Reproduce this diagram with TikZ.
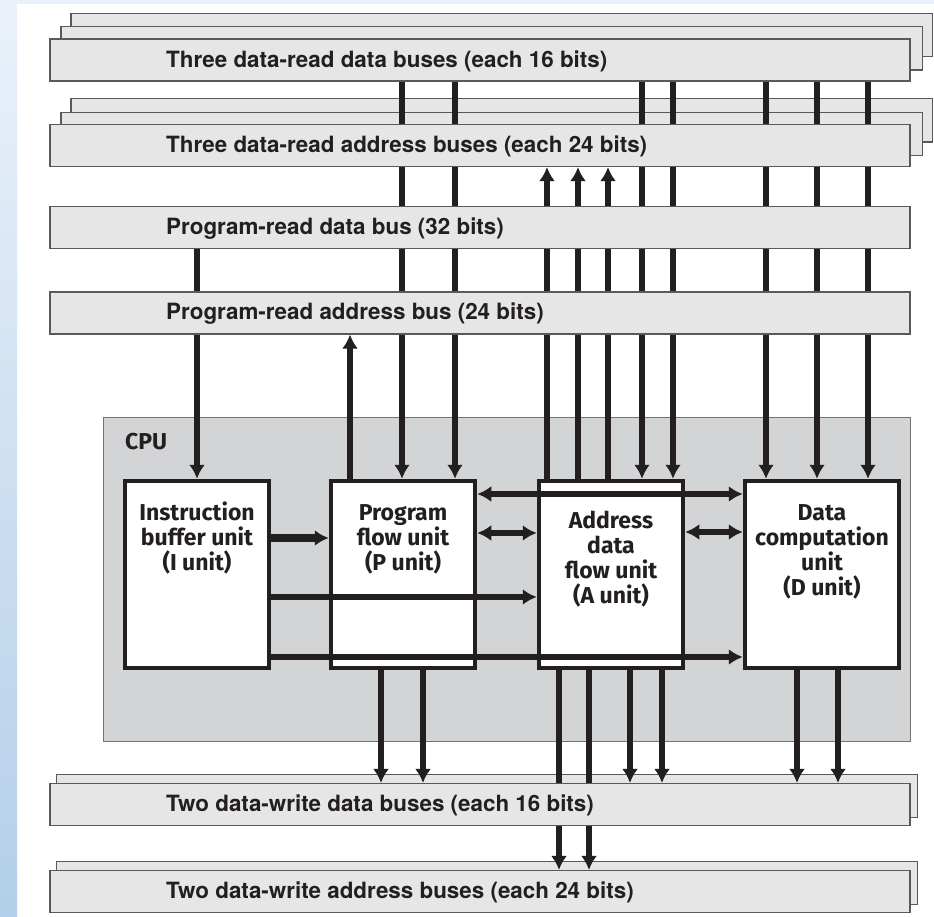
\documentclass[tikz,border=0pt]{standalone}
\usepackage{fontspec}
\setmainfont{TeX Gyre Heros}
\newfontfamily\unitfont{Fira Sans}
\usetikzlibrary{arrows.meta}
\pgfdeclarelayer{bg}
\pgfdeclarelayer{wires}
\pgfsetlayers{bg,wires,main}
\definecolor{bluestrip}{HTML}{B3CFE9}
\definecolor{bluelight}{HTML}{EAF1FA}
\definecolor{busgray}{HTML}{E6E6E6}
\definecolor{cpugray}{HTML}{D3D4D6}
\definecolor{ink}{HTML}{231F20}
\tikzset{
  bus/.style={draw=black!65, fill=busgray, line width=1.2pt, minimum width=860pt, minimum height=42pt, inner sep=0pt},
  busback/.style={draw=black!65, fill=busgray, line width=1.2pt},
  buslabel/.style={anchor=west, inner sep=0pt, text=ink, font=\fontsize{22.4}{25}\selectfont\bfseries},
  cpu/.style={draw=black!55, fill=cpugray, line width=0.8pt, minimum width=807pt, minimum height=324pt},
  unit/.style={draw=ink, fill=white, line width=4.5pt, inner sep=0pt, minimum width=144pt, minimum height=187pt},
  unitlabel/.style={anchor=base, inner sep=0pt, align=center, text=ink, font=\unitfont\fontsize{23}{25}\selectfont\bfseries},
  wire/.style={draw=ink, line width=5.5pt},
  tip/.style={-{Latex[length=14pt,width=16pt]}},
  tips/.style={{Latex[length=14pt,width=16pt]}-{Latex[length=14pt,width=16pt]}},
}
\begin{document}
\begin{tikzpicture}[x=1pt,y=-1pt]
\useasboundingbox (0,0) rectangle (934,917);

\node[bus] (drd) at (480,60) {};
\node[bus] (dra) at (480,145.5) {};
\node[bus] (prd) at (480,227.5) {};
\node[bus] (pra) at (480,313) {};
\node[bus] (wrd) at (480,804.5) {};
\node[bus] (wra) at (480,891.5) {};
\node[buslabel] (drdl) at (166,61) {Three data-read data buses (each 16 bits)};
\node[buslabel] (dral) at (166,146.5) {Three data-read address buses (each 24 bits)};
\node[buslabel] (prdl) at (166,228.5) {Program-read data bus (32 bits)};
\node[buslabel] (pral) at (166,314) {Program-read address bus (24 bits)};
\node[buslabel] (wrdl) at (166,805.5) {Two data-write data buses (each 16 bits)};
\node[buslabel] (wral) at (166,892.5) {Two data-write address buses (each 24 bits)};

\node[unit] (iu) at (197,574.5) {};
\node[unit] (pu) at (403,574.5) {};
\node[unit] (au) at (611,574.5) {};
\node[unit, minimum width=154pt] (du) at (822,574.5) {};
% base sits on the last line
\node[unitlabel] (iul) at (197,570) {Instruction\\buffer unit\\(I unit)};
\node[unitlabel] (pul) at (403,570) {Program\\flow unit\\(P unit)};
\node[unitlabel] (aul) at (611,603) {Address\\data\\flow unit\\(A unit)};
\node[unitlabel] (dul) at (822,595) {Data\\computation\\unit\\(D unit)};
\node[anchor=base west, inner sep=0pt, text=ink, font=\unitfont\fontsize{23}{24}\selectfont\bfseries] (cpul) at (125,449) {CPU};

\draw[wire,tip,line width=8pt] (iu.east |- 0,538) -- (pu.west |- 0,538);
\draw[wire,tip] (iu.east |- 0,597) -- (au.west |- 0,597);
\draw[wire,tip] (iu.east |- 0,657) -- (du.west |- 0,657);
\draw[wire,tips] (pu.east |- 0,494) -- (du.west |- 0,494);
\draw[wire,tips] (pu.east |- 0,533) -- (au.west |- 0,533);
\draw[wire,tips] (au.east |- 0,532) -- (du.west |- 0,532);

\begin{pgfonlayer}{wires}
\draw[wire,tip] (prd.south -| 197,0) -- (iu.north -| 197,0);
\draw[wire,tip] (pu.north -| 350,0) -- (pra.south -| 350,0);
\foreach \x in {402,455} \draw[wire,tip] (drd.south -| \x,0) -- (pu.north -| \x,0);
\foreach \x in {547,578,608} \draw[wire,tip] (au.north -| \x,0) -- (dra.south -| \x,0);
\foreach \x in {642,673} \draw[wire,tip] (drd.south -| \x,0) -- (au.north -| \x,0);
\foreach \x in {766,817,868} \draw[wire,tip] (drd.south -| \x,0) -- (du.north -| \x,0);
\foreach \x in {381,423} \draw[wire,tip] (pu.south -| \x,0) -- (wrd.north -| \x,0);
\foreach \x in {630,662} \draw[wire,tip] (au.south -| \x,0) -- (wrd.north -| \x,0);
\foreach \x in {559,589} \draw[wire,tip] (au.south -| \x,0) -- (wra.north -| \x,0);
\foreach \x in {797,838} \draw[wire,tip] (du.south -| \x,0) -- (wrd.north -| \x,0);
\end{pgfonlayer}

\begin{pgfonlayer}{bg}
\fill[white] (0,0) rectangle (934,917);
\fill[bluelight] (0,0) rectangle (934,4);
\shade[top color=bluelight, bottom color=bluestrip] (0,0) rectangle (17,917);
\node[cpu] (cpu) at (506.5,579) {};
\foreach \b in {drd,dra} {
  \draw[busback] ([shift={(21.5,-25)}]\b.south west) rectangle ([shift={(21.5,-25)}]\b.north east);
  \draw[busback] ([shift={(11.5,-11.5)}]\b.south west) rectangle ([shift={(11.5,-11.5)}]\b.north east);
}
\foreach \b in {wrd,wra} \draw[busback] ([shift={(7,-8.5)}]\b.south west) rectangle ([shift={(7,-8.5)}]\b.north east);
\end{pgfonlayer}
\end{tikzpicture}
\end{document}
